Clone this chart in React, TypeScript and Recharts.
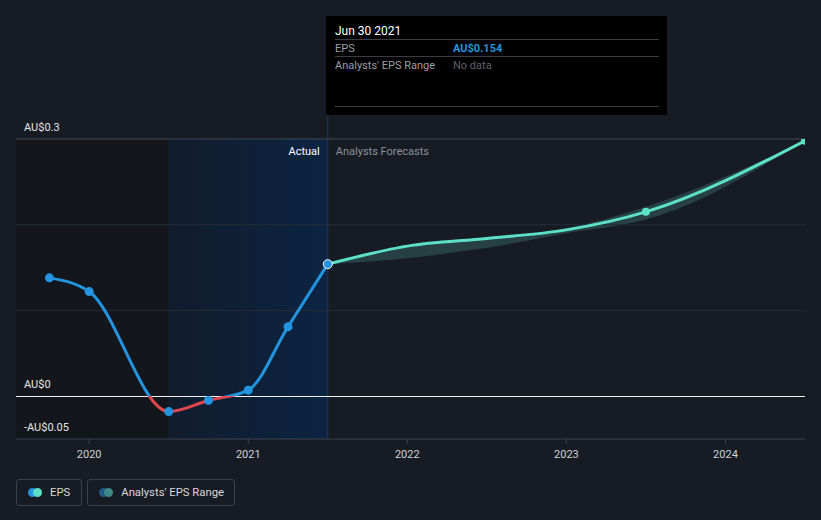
import React from "react";
import {
  ComposedChart,
  Line,
  Area,
  XAxis,
  YAxis,
  ReferenceLine,
  ReferenceArea,
} from "recharts";

// ---- data (dates as fractional years) ----
const actualDates = [2019.75, 2020.0, 2020.5, 2020.75, 2021.0, 2021.25, 2021.5];
const actualEps = [0.138, 0.122, -0.018, -0.005, 0.007, 0.081, 0.154];

const forecastDates = [2021.5, 2022.0, 2022.5, 2023.0, 2023.5, 2024.5];
const forecastEps = [0.154, 0.175, 0.184, 0.194, 0.215, 0.298];
const rangeLow = [0.154, 0.161, 0.173, 0.19, 0.206, 0.298];
const rangeHigh = [0.154, 0.176, 0.185, 0.196, 0.221, 0.298];
const forecastMarkerDates = [2023.5, 2024.5];

const xTicks = [2020, 2021, 2022, 2023, 2024];
const gridValues = [0.1, 0.2];
const topValue = 0.3;
const yLabeled = [-0.05, 0, 0.3];
const xDomain = [2019.54, 2024.5];
const yDomain = [-0.05, 0.3];

const pastStart = xDomain[0];
const actualStart = 2020.5;
const nowDate = 2021.5;

type Row = { x: number; eps?: number; forecast?: number; range?: [number, number] };

const dates = Array.from(new Set([...actualDates, ...forecastDates])).sort((a, b) => a - b);
const data: Row[] = dates.map((d) => {
  const row: Row = { x: d };
  const ai = actualDates.indexOf(d);
  if (ai >= 0) row.eps = actualEps[ai];
  const fi = forecastDates.indexOf(d);
  if (fi >= 0) {
    row.forecast = forecastEps[fi];
    row.range = [rangeLow[fi], rangeHigh[fi]];
  }
  return row;
});

const epsMax = Math.max(...actualEps);
const epsMin = Math.min(...actualEps);
const zeroOffset = epsMax / (epsMax - epsMin);

const fmt = (v: number) => {
  const s = Math.abs(v).toString();
  return (v < 0 ? "-" : "") + "AU$" + s;
};

const BG = "#161b24";
const BLUE = "#2394df";
const TEAL = "#5ce0c6";
const RED = "#e0474c";
const FONT = "Roboto, 'Noto Sans', sans-serif";

const yLabel = (v: number) => (props: any) => {
  const vb = props.viewBox || {};
  return (
    <text x={(vb.x || 0) + 8} y={(vb.y || 0) - 12} dy="0.35em" fill="#e6e6e6" fontSize={11} textAnchor="start" fontFamily={FONT}>
      {fmt(v)}
    </text>
  );
};

const nowLabel = (props: any) => {
  const vb = props.viewBox || {};
  const x = vb.x || 0;
  const y = (vb.y || 0) + 12;
  return (
    <g fontFamily={FONT} fontSize={11}>
      <text x={x - 8} y={y} dy="0.35em" fill="#ffffff" textAnchor="end">
        Actual
      </text>
      <text x={x + 8} y={y} dy="0.35em" fill="#8c9199" textAnchor="start">
        Analysts Forecasts
      </text>
    </g>
  );
};

const XTick = (props: any) => {
  const { x, y, payload } = props;
  return (
    <text x={x} y={y + 8} dy="0.35em" fill="#cfd2d6" fontSize={11} textAnchor="middle" fontFamily={FONT}>
      {payload.value}
    </text>
  );
};

const ActualDot = (props: any) => {
  const { cx, cy, payload } = props;
  if (cx == null || cy == null || payload.eps == null) return <g key={"a" + (payload && payload.x)} />;
  if (payload.x === nowDate) {
    return <circle key={"a" + payload.x} cx={cx} cy={cy} r={4.5} fill={BLUE} stroke="#ffffff" strokeWidth={1} />;
  }
  return <circle key={"a" + payload.x} cx={cx} cy={cy} r={4.5} fill={BLUE} stroke="none" />;
};

const ForecastDot = (props: any) => {
  const { cx, cy, payload } = props;
  if (cx == null || cy == null || !forecastMarkerDates.includes(payload.x)) return <g key={"f" + payload.x} />;
  return <circle key={"f" + payload.x} cx={cx} cy={cy} r={4} fill={TEAL} stroke="none" />;
};

const NowLine = (props: any) => {
  const { x1, y1, x2, y2 } = props;
  const top = Math.min(y1, y2) - 24;
  const bottom = Math.max(y1, y2);
  return <line x1={x1} y1={top} x2={x2} y2={bottom} stroke="#1f3a5c" strokeWidth={1} />;
};

const ZeroLine = (props: any) => {
  const { x1, y1, x2, y2 } = props;
  const y = Math.round((y1 + y2) / 2) + 0.5;
  return <line x1={x1} y1={y} x2={x2} y2={y} stroke="#f0f0f0" strokeWidth={1} />;
};

const Swatch = ({ a, b }: { a: string; b: string }) => (
  <span style={{ position: "relative", display: "inline-block", width: 14, height: 9, marginRight: 8 }}>
    <span style={{ position: "absolute", left: 0, top: 0, width: 9, height: 9, borderRadius: 5, background: a }} />
    <span style={{ position: "absolute", left: 5, top: 0, width: 9, height: 9, borderRadius: 5, background: b }} />
  </span>
);

const legendBox: React.CSSProperties = {
  border: "1px solid #3a414c",
  borderRadius: 3,
  height: 27,
  boxSizing: "border-box",
  padding: "0 10px 0 11px",
  display: "flex",
  alignItems: "center",
  color: "#d6d8db",
  whiteSpace: "nowrap",
};

export default function App() {
  return (
    <div
      style={{
        position: "absolute",
        left: 0,
        top: 0,
        width: 821,
        height: 520,
        background: BG,
        fontFamily: FONT,
        overflow: "hidden",
      }}
    >
      <ComposedChart
        width={821}
        height={520}
        data={data}
        margin={{ top: 139, right: 16, bottom: 51, left: 16 }}
        style={{ fontFamily: FONT }}
      >
        <defs>
          <linearGradient id="actualBand" x1="0" y1="0" x2="1" y2="0">
            <stop offset="0%" stopColor="#111c2c" />
            <stop offset="100%" stopColor="#0c2443" />
          </linearGradient>
          <linearGradient id="epsStroke" x1="0" y1="0" x2="0" y2="1">
            <stop offset={zeroOffset} stopColor={BLUE} />
            <stop offset={zeroOffset} stopColor={RED} />
          </linearGradient>
        </defs>
        <XAxis
          dataKey="x"
          type="number"
          domain={xDomain}
          ticks={xTicks}
          allowDataOverflow
          height={30}
          axisLine={{ stroke: "#3d434d" }}
          tickLine={{ stroke: "#3d434d" }}
          tickSize={5}
          tick={<XTick />}
        />
        <YAxis type="number" domain={yDomain} hide allowDataOverflow />
        <ReferenceArea x1={pastStart} x2={actualStart} fill="#13161c" fillOpacity={1} stroke="none" ifOverflow="hidden" />
        <ReferenceArea x1={actualStart} x2={nowDate} fill="url(#actualBand)" fillOpacity={1} stroke="none" />
        {gridValues.map((v) => (
          <ReferenceLine key={v} y={v} stroke="#262c36" strokeWidth={1} />
        ))}
        <ReferenceLine y={topValue} stroke="#454b55" strokeWidth={1} label={yLabel(topValue)} />
        <ReferenceLine x={nowDate} shape={<NowLine />} label={nowLabel} />
        <ReferenceLine y={0} shape={<ZeroLine />} label={yLabel(0)} />
        <ReferenceLine y={yLabeled[0]} stroke="none" strokeOpacity={0} label={yLabel(yLabeled[0])} />
        <Area
          dataKey="range"
          type="monotone"
          stroke="none"
          fill="#2c4d4f"
          fillOpacity={0.75}
          isAnimationActive={false}
          connectNulls={false}
          dot={false}
          activeDot={false}
        />
        <Line
          dataKey="forecast"
          type="monotone"
          stroke={TEAL}
          strokeWidth={3}
          dot={<ForecastDot />}
          activeDot={false}
          isAnimationActive={false}
        />
        <Line
          dataKey="eps"
          type="monotone"
          stroke="url(#epsStroke)"
          strokeWidth={3}
          dot={<ActualDot />}
          activeDot={false}
          isAnimationActive={false}
        />
      </ComposedChart>

      {/* tooltip */}
      <div
        style={{
          position: "absolute",
          left: 326,
          top: 16,
          width: 341,
          height: 99,
          background: "#000000",
          boxSizing: "border-box",
          padding: "0 8px 0 9px",
          fontSize: 11,
        }}
      >
        <div style={{ color: "#ffffff", fontSize: 12, height: 23, lineHeight: "30px" }}>Jun 30 2021</div>
        <div style={{ borderTop: "1px solid #3a3d42", height: 16, display: "flex", alignItems: "center" }}>
          <span style={{ color: "#9a9ea5", width: 118 }}>EPS</span>
          <span style={{ color: BLUE, fontWeight: 700 }}>AU$0.154</span>
        </div>
        <div style={{ borderTop: "1px solid #3a3d42", height: 16, display: "flex", alignItems: "center" }}>
          <span style={{ color: "#9a9ea5", width: 118 }}>Analysts' EPS Range</span>
          <span style={{ color: "#5e6269" }}>No data</span>
        </div>
        <div style={{ position: "absolute", left: 9, right: 8, top: 90, borderTop: "1px solid #3a3d42" }} />
      </div>

      {/* legend */}
      <div style={{ position: "absolute", left: 16, top: 479, display: "flex", gap: 5, fontSize: 11.3 }}>
        <div style={{ ...legendBox, paddingRight: 11 }}>
          <Swatch a={BLUE} b={TEAL} />
          EPS
        </div>
        <div style={legendBox}>
          <Swatch a="#1f5a8a" b="#3c8884" />
          Analysts' EPS Range
        </div>
      </div>
    </div>
  );
}
